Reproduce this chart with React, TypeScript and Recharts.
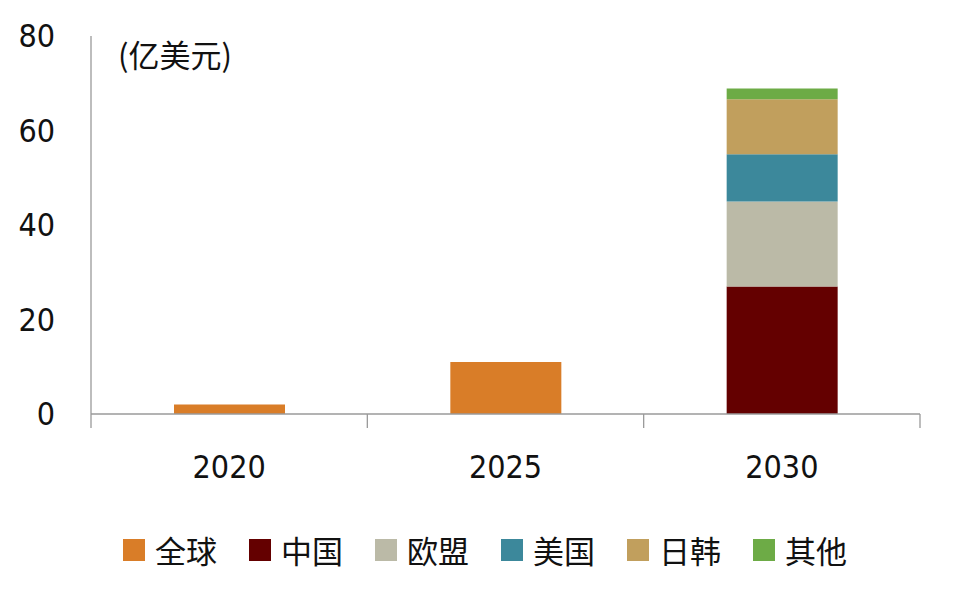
import React from "react";
import { Bar, BarChart, XAxis, YAxis } from "recharts";

const years = ["2020", "2025", "2030"];
const seriesNames = ["全球", "中国", "欧盟", "美国", "日韩", "其他"];
const seriesColors = ["#D97D28", "#640000", "#BBBAA7", "#3C889B", "#C19F5D", "#6DAB46"];
const globalValues = [2, 11, 0];
const chinaValues = [0, 0, 27];
const euValues = [0, 0, 18];
const usValues = [0, 0, 10];
const jkValues = [0, 0, 11.6];
const otherValues = [0, 0, 2.3];
const yTicks = [0, 20, 40, 60, 80];
const unitLabel = "(亿美元)";

const seriesValues = [globalValues, chinaValues, euValues, usValues, jkValues, otherValues];
const data = years.map((year, i) => {
	const row: Record<string, string | number> = { year };
	seriesNames.forEach((name, s) => {
		row[name] = seriesValues[s][i];
	});
	return row;
});

const W = 960;
const H = 607;
const LEFT = 91;
const RIGHT = 40;
const band = (W - LEFT - RIGHT) / years.length;
const tickFont = "'Liberation Sans Narrow', 'DejaVu Sans Condensed', sans-serif";
const cjkFont = "'Noto Sans CJK SC', 'Noto Sans', sans-serif";
const axisColor = "#9a9a9a";

function YearTick(props: any) {
	const { x, y, payload, index } = props;
	const left = x - band / 2;
	const right = x + band / 2;
	return (
		<g>
			<line x1={left} y1={y} x2={left} y2={y + 14} stroke={axisColor} strokeWidth={1.3} />
			{index === years.length - 1 ? (
				<line x1={right} y1={y} x2={right} y2={y + 14} stroke={axisColor} strokeWidth={1.3} />
			) : null}
			<text
				x={x}
				y={y + 64}
				textAnchor="middle"
				fill="#111"
				fontSize={32}
				fontFamily={tickFont}>
				{payload.value}
			</text>
		</g>
	);
}

export default function App() {
	return (
		<div
			style={{
				position: "absolute",
				left: 0,
				top: 0,
				width: W,
				height: H,
				background: "#fff",
			}}>
			<BarChart
				width={W}
				height={H}
				data={data}
				barSize={111}
				margin={{ top: 36, right: RIGHT, left: 0, bottom: 163 }}>
				<XAxis
					dataKey="year"
					height={30}
					axisLine={{ stroke: axisColor, strokeWidth: 1.3 }}
					tickLine={false}
					tickSize={0}
					tickMargin={0}
					interval={0}
					tick={<YearTick />}
				/>
				<YAxis
					width={LEFT}
					domain={[0, 80]}
					ticks={yTicks}
					interval={0}
					axisLine={{ stroke: axisColor, strokeWidth: 1.3 }}
					tickLine={false}
					tickSize={0}
					tickMargin={36}
					tick={{ fill: "#111", fontSize: 32, fontFamily: tickFont }}
				/>
				{seriesNames.map((name, s) => (
					<Bar
						key={name}
						dataKey={name}
						stackId="a"
						fill={seriesColors[s]}
						isAnimationActive={false}
					/>
				))}
			</BarChart>
			<div
				style={{
					position: "absolute",
					left: 118,
					top: 34,
					fontFamily: cjkFont,
					fontSize: 31,
					color: "#111",
					lineHeight: "40px",
				}}>
				{unitLabel}
			</div>
			<div
				style={{
					position: "absolute",
					left: 123,
					top: 529,
					display: "flex",
					fontFamily: cjkFont,
					fontSize: 31,
					color: "#111",
					lineHeight: "42px",
				}}>
				{seriesNames.map((name, s) => (
					<div
						key={name}
						style={{ width: 126, display: "flex", alignItems: "center" }}>
						<span
							style={{
								display: "inline-block",
								width: 22,
								height: 22,
								background: seriesColors[s],
								marginRight: 10,
							}}
						/>
						<span>{name}</span>
					</div>
				))}
			</div>
		</div>
	);
}
